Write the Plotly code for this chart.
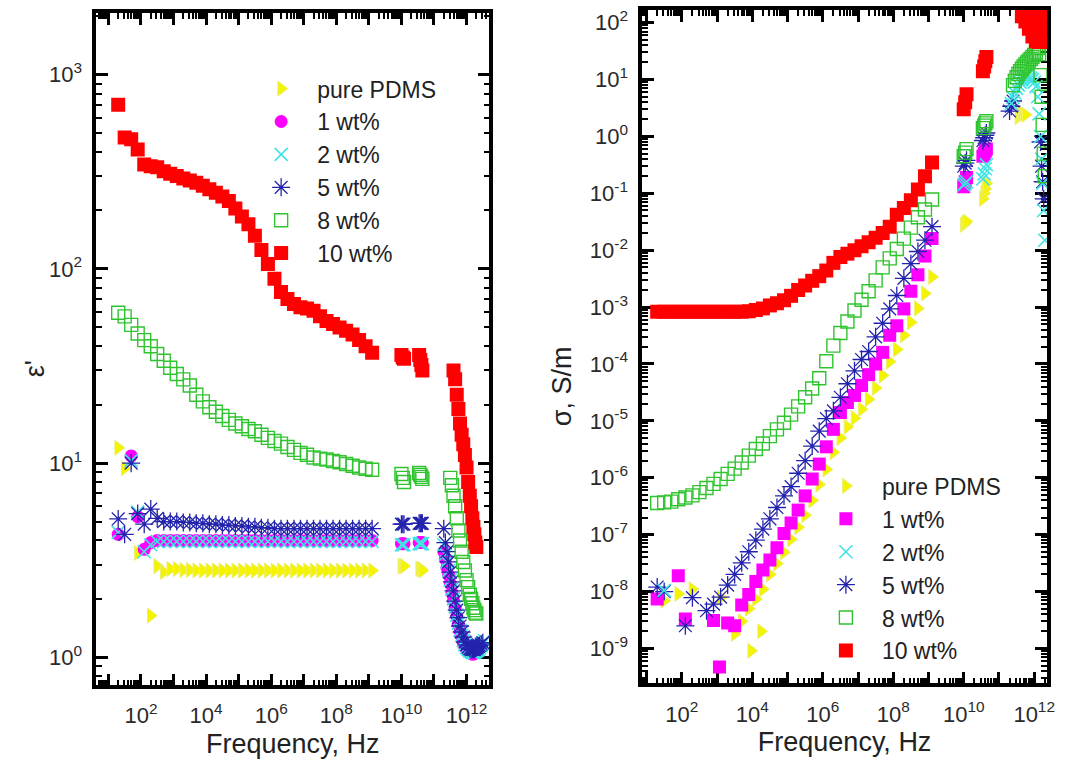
import plotly.graph_objects as go

# ---------------- data ----------------
# frequency grids (Hz)
freq_lf = [20, 31.6, 50.1, 79.4,
           126, 200, 316, 501, 794,
           1.26e3, 2.0e3, 3.16e3, 5.01e3, 7.94e3,
           1.26e4, 2.0e4, 3.16e4, 5.01e4, 7.94e4,
           1.26e5, 2.0e5, 3.16e5, 5.01e5, 7.94e5,
           1.26e6, 2.0e6, 3.16e6, 5.01e6, 7.94e6,
           1.26e7, 2.0e7, 3.16e7, 5.01e7, 7.94e7,
           1.26e8, 2.0e8, 3.16e8, 5.01e8, 7.94e8,
           1.26e9]
freq_mw = [1.0e10, 1.1e10, 1.2e10, 3.5e10, 3.8e10, 4.1e10, 4.4e10]
freq_thz = [2.0e11, 2.24e11, 2.51e11, 2.82e11, 3.16e11, 3.55e11, 3.98e11, 4.47e11,
            5.01e11, 5.62e11, 6.31e11, 7.08e11, 7.94e11, 8.91e11, 1.0e12, 1.12e12,
            1.26e12, 1.38e12, 1.51e12, 1.62e12, 1.74e12, 1.86e12, 2.0e12, 2.14e12,
            2.29e12, 2.51e12, 2.82e12, 3.16e12, 3.55e12]

series_names = ["pure PDMS", "1 wt%", "2 wt%", "5 wt%", "8 wt%", "10 wt%"]

# ---- permittivity eps' (left panel) ----
eps_pdms_lf = [12.0, 9.4, None, 3.45, None, 1.64, 2.95, 2.75,
               2.85, 2.85, 2.82, 2.82, 2.8, 2.8, 2.8, 2.8, 2.8, 2.8, 2.8, 2.8,
               2.8, 2.8, 2.8, 2.8, 2.8, 2.8, 2.8, 2.8, 2.8, 2.8,
               2.8, 2.8, 2.8, 2.8, 2.8, 2.8, 2.8, 2.8, 2.8, 2.8]
eps_1_lf = [4.3, None, 10.9, 5.3, 3.6, 3.9, 4.0, 4.0, 4.0, 4.0,
            4.0, 4.0, 4.0, 4.0, 4.0, 4.0, 4.0, 4.0, 4.0, 4.0,
            4.0, 4.0, 4.0, 4.0, 4.0, 4.0, 4.0, 4.0, 4.0, 4.0,
            4.0, 4.0, 4.0, 4.0, 4.0, 4.0, 4.0, 4.0, 4.0, 4.0]
eps_2_lf = [4.4, None, 10.3, 5.6, 3.5, 3.8, 3.95, 3.95, 3.95, 3.95,
            3.95, 3.95, 3.95, 3.95, 3.95, 3.95, 3.95, 3.95, 3.95, 3.95,
            3.95, 3.95, 3.95, 3.95, 3.95, 3.95, 3.95, 3.95, 3.95, 3.95,
            3.95, 3.95, 3.95, 3.95, 3.95, 3.95, 3.95, 3.95, 3.95, 3.95]
eps_5_lf = [5.16, 4.3, 10.0, 5.5, 4.85, 5.8, 5.2, 5.0, 5.0, 5.0,
            4.95, 4.95, 4.9, 4.9, 4.85, 4.85, 4.8, 4.8, 4.75, 4.75,
            4.7, 4.7, 4.65, 4.65, 4.6, 4.6, 4.6, 4.6, 4.6, 4.6,
            4.6, 4.6, 4.6, 4.6, 4.6, 4.6, 4.6, 4.6, 4.6, 4.6]
eps_8_lf = [59.5, 57, 51.5, 46.5, 43, 40, 36.5, 33.7, 31, 28.8,
            27, 25.1, 22.5, 20.8, 19.4, 18.4, 17.5, 16.7, 16.0, 15.5,
            15.0, 14.6, 14.0, 13.5, 13.0, 12.6, 12.1, 11.7, 11.3, 11.05,
            10.7, 10.55, 10.45, 10.25, 10.1, 9.9, 9.7, 9.5, 9.35, 9.25]
eps_10_lf = [700, 475, 465, 412, 345, 338, 334, 318, 309, 301,
             292, 285, 278, 268, 257, 247, 236, 224, 205, 186,
             170, 148, 125, 106, 89, 76, 70, 66, 63.5, 62.5,
             61, 57, 54, 52, 50, 48, 46, 43, 40, 37]

eps_pdms_mw = [2.95, 2.95, 2.95, 2.85, 2.85, 2.85, 2.8]
eps_1_mw = [3.85, 3.85, 3.85, 3.9, 3.9, 3.9, 3.9]
eps_2_mw = [3.8, 3.8, 3.8, 3.85, 3.85, 3.85, 3.85]
eps_5_mw = [4.85, 4.85, 4.85, 4.9, 4.9, 4.9, 4.9]
eps_8_mw = [8.8, 8.4, 8.0, 8.9, 8.7, 8.5, 8.3]
eps_10_mw = [36, 35, 34.5, 36, 34, 32, 30]

eps_pdms_thz = [None] * 29
eps_1_thz = [3.5, 3.2, 2.9, 2.65, 2.4, 2.15, 1.95, 1.78, 1.62, 1.48, 1.36, 1.28, 1.2, 1.15,
             1.11, 1.08, 1.06, 1.05, 1.04, 1.04, 1.05, 1.06, 1.07, 1.08, 1.1, 1.12, 1.14,
             None, None]
eps_2_thz = [3.8, 3.4, 3.1, 2.8, 2.5, 2.25, 2.0, 1.82, 1.65, 1.5, 1.38, 1.3, 1.22, 1.16,
             1.12, 1.1, 1.08, 1.07, 1.06, 1.06, 1.06, 1.07, 1.08, 1.09, 1.1, 1.12, 1.15,
             1.18, 1.22]
eps_5_thz = [4.6, 3.9, 3.5, 3.1, 2.75, 2.45, 2.2, 1.95, 1.75, 1.6, 1.45, 1.35, 1.27, 1.2,
             1.16, 1.13, 1.11, 1.1, 1.1, 1.1, 1.1, 1.11, 1.12, 1.13, 1.14, 1.15, 1.17,
             1.19, None]
eps_8_thz = [None, None, None, None, 8.4, 7.7, 6.8, 6.0, 5.2, 4.5, 4.0, 3.5, 3.1, 2.8,
             2.5, 2.3, 2.1, 2.0, 1.9, 1.8, 1.75, 1.7, 1.68, None, None, None, None,
             None, None]
eps_10_thz = [None, None, None, None, None, None, 30, 27, 22.5, 19, 16, 14, 12.5, 11,
              9.5, 8, 6.8, 6.0, 5.2, 4.7, 4.3, 3.9, 3.7, None, None, None, None,
              None, None]

# ---- conductivity sigma, S/m (right panel) ----
sig_pdms_lf = [None, 6.9e-9, None, 9.1e-9, None, 1.1e-8, None, None, None, 7.8e-9,
               None, 1.8e-9, 3.0e-9, 5.0e-9, 7.4e-9, 1.1e-8, 2.0e-8, 3.1e-8, 4.9e-8, 8.3e-8,
               1.35e-7, 2.2e-7, 4.0e-7, 7.6e-7, 1.4e-6, 2.8e-6, 5.0e-6, 7.9e-6, 1.12e-5, 1.6e-5,
               2.4e-5, 3.8e-5, 6.3e-5, 1.1e-4, 1.8e-4, 3.2e-4, 5.4e-4, 9.5e-4, 1.74e-3, 3.4e-3]
sig_1_lf = [7.4e-9, None, None, 1.9e-8, 3.3e-9, None, None, None, 3.1e-9, None,
            2.8e-9, 2.5e-9, 5.8e-9, 8.9e-9, 1.5e-8, 2.4e-8, 3.6e-8, 5.9e-8, 1.05e-7, 1.6e-7,
            2.7e-7, 4.8e-7, 9.5e-7, 1.74e-6, 3.5e-6, 7.1e-6, 1.4e-5, 2.1e-5, 2.8e-5, 4.2e-5,
            6.5e-5, 1.0e-4, 1.6e-4, 3.2e-4, 4.7e-4, 9.3e-4, 1.9e-3, 3.7e-3, 7.9e-3, 1.6e-2]
sig_2_lf = [None, 1.05e-8, None, None, None, None, None, None, None, None,
            None, None, None, None, None, None, None, None, None, None,
            None, None, None, None, None, None, None, None, None, None,
            None, None, None, None, None, None, None, None, None, None]
sig_5_lf = [1.2e-8, 1.0e-8, None, None, 2.5e-9, 7.8e-9, None, 4.6e-9, 6.0e-9, 8.0e-9,
            1.3e-8, 2.0e-8, 3.2e-8, 5.0e-8, 8.0e-8, 1.25e-7, 1.9e-7, 3.0e-7, 4.8e-7, 7.0e-7,
            1.2e-6, 2.0e-6, 3.6e-6, 6.6e-6, 1.1e-5, 1.5e-5, 2.6e-5, 4.5e-5, 7.6e-5, 1.2e-4,
            1.66e-4, 3.0e-4, 5.2e-4, 9.3e-4, 1.6e-3, 3.2e-3, 5.8e-3, 9.5e-3, 1.5e-2, 2.6e-2]
sig_8_lf = [3.6e-7, 3.7e-7, 3.8e-7, 4.2e-7, 4.5e-7, 4.9e-7, 5.6e-7, 6.6e-7, 7.8e-7, 9.5e-7,
            1.17e-6, 1.45e-6, 1.86e-6, 2.45e-6, 3.2e-6, 4.0e-6, 5.4e-6, 7.1e-6, 9.3e-6, 1.29e-5,
            1.8e-5, 2.6e-5, 3.7e-5, 5.6e-5, 1.12e-4, 2.1e-4, 3.5e-4, 5.6e-4, 8.7e-4, 1.35e-3,
            1.9e-3, 2.95e-3, 5.0e-3, 7.2e-3, 1.05e-2, 1.6e-2, 2.5e-2, 3.8e-2, 5.2e-2, 7.8e-2]
sig_10_lf = [8.3e-4, 8.3e-4, 8.3e-4, 8.3e-4, 8.3e-4, 8.3e-4, 8.3e-4, 8.3e-4, 8.3e-4, 8.3e-4,
             8.3e-4, 8.3e-4, 8.3e-4, 8.5e-4, 8.9e-4, 9.5e-4, 1.07e-3, 1.17e-3, 1.32e-3, 1.58e-3,
             2.0e-3, 2.4e-3, 2.9e-3, 3.5e-3, 4.4e-3, 6.0e-3, 7.6e-3, 8.7e-3, 1.0e-2, 1.17e-2,
             1.38e-2, 1.66e-2, 2.0e-2, 2.6e-2, 4.2e-2, 5.5e-2, 7.6e-2, 0.117, 0.20, 0.35]

sig_pdms_mw = [0.028, 0.03, 0.032, 0.08, 0.1, 0.12, 0.15]
sig_1_mw = [0.13, 0.16, 0.19, 0.45, 0.5, 0.55, 0.6]
sig_2_mw = [0.14, 0.15, 0.16, 0.18, 0.22, 0.27, 0.32]
sig_5_mw = [0.3, 0.34, 0.38, 0.85, 0.95, 1.05, 1.15]
sig_8_mw = [0.45, 0.52, 0.6, 1.4, 1.55, 1.7, 1.85]
sig_10_mw = [3.0, 4.0, 5.5, 14, 17, 21, 25]

sig_pdms_thz = [None, None, None, None, None, 2.2, 2.4, 2.5, 2.5, 2.4, None, None, None, None,
                None, None, None, None, None, None, None, None, None, None, None, None, None,
                None, None]
sig_1_thz = [None] * 29
sig_2_thz = [None, 3.8, 4.8, 5.8, 7.0, 8.0, 9.0, 10, 11, 11.5, 11.5, 11, 10.5, 10,
             9, 7.5, 5, 2.5, 1.0, 0.4, 0.15, 0.05, 0.015, None, None, None, None,
             None, None]
sig_5_thz = [2.8, 3.4, 4.2, None, None, None, None, None, None, None, None, None, None, None,
             None, None, None, None, 0.8, 0.3, 0.16, 0.08, None, None, None, None, None,
             None, None]
sig_8_thz = [None, None, 8, 9.5, 11, 12.5, 14, 15.5, 17, 18.5, 20, 21.5, 23, 25,
             27, 30, 36, 28, 12, 5, 1.6, 0.5, 0.2, None, None, None, None,
             None, None]
sig_10_thz = [None, None, None, None, None, None, None, 130, 160, 105, 150, 78, 120, 57,
              160, 47, 90, 46, 160, 65, 46, 150, 90, 46, 150, None, None,
              None, None]

# additional isolated points of the low-frequency sweep
sig_pdms_extra_f = [9.3e3, 1.78e4]
sig_pdms_extra = [9.1e-10, 2.0e-9]
sig_1_extra_f = [1.17e3]
sig_1_extra = [4.7e-10]

# ---------------- styling ----------------
FONT = "Arial, Liberation Sans, sans-serif"
C_Y, C_M, C_C, C_B, C_G, C_R = "#f4f400", "#ff00ff", "#3fe3e3", "#2323ad", "#2fc42f", "#ff0000"

def mk(symbol, size, color, lw=0, lcolor=None):
    return dict(symbol=symbol, size=size, color=color,
                line=dict(width=lw, color=lcolor or color))

left_markers = [
    mk("triangle-right", 13, C_Y, 1, "#eded70"),
    mk("circle", 13, C_M),
    mk("x-thin-open", 13, C_C, 1.6),
    mk("asterisk-open", 15, C_B, 1.3),
    mk("square-open", 13, C_G, 1.4),
    mk("square", 14, C_R),
]
right_markers = [
    mk("triangle-right", 13, C_Y, 1, "#eded70"),
    mk("square", 13, C_M),
    mk("x-thin-open", 13, C_C, 1.6),
    mk("asterisk-open", 15, C_B, 1.3),
    mk("square-open", 13, C_G, 1.4),
    mk("square", 14, C_R),
]

eps_lf = [eps_pdms_lf, eps_1_lf, eps_2_lf, eps_5_lf, eps_8_lf, eps_10_lf]
eps_mw = [eps_pdms_mw, eps_1_mw, eps_2_mw, eps_5_mw, eps_8_mw, eps_10_mw]
eps_thz = [eps_pdms_thz, eps_1_thz, eps_2_thz, eps_5_thz, eps_8_thz, eps_10_thz]
sig_lf = [sig_pdms_lf, sig_1_lf, sig_2_lf, sig_5_lf, sig_8_lf, sig_10_lf]
sig_mw = [sig_pdms_mw, sig_1_mw, sig_2_mw, sig_5_mw, sig_8_mw, sig_10_mw]
sig_thz = [sig_pdms_thz, sig_1_thz, sig_2_thz, sig_5_thz, sig_8_thz, sig_10_thz]
sig_extra_f = [sig_pdms_extra_f, sig_1_extra_f, [], [], [], []]
sig_extra = [sig_pdms_extra, sig_1_extra, [], [], [], []]

left_z = [0, 1, 2, 3, 4, 5]
right_z = [0, 1, 3, 2, 4, 5]

fig = go.Figure()
for k, name in enumerate(series_names):
    fig.add_trace(go.Scatter(
        x=freq_lf + freq_mw + freq_thz,
        y=eps_lf[k] + eps_mw[k] + eps_thz[k],
        mode="markers", name=name, marker=left_markers[k],
        xaxis="x", yaxis="y", legend="legend", zorder=left_z[k]))
for k, name in enumerate(series_names):
    fig.add_trace(go.Scatter(
        x=freq_lf + freq_mw + freq_thz + sig_extra_f[k],
        y=sig_lf[k] + sig_mw[k] + sig_thz[k] + sig_extra[k],
        mode="markers", name=name, marker=right_markers[k],
        xaxis="x2", yaxis="y2", legend="legend2", zorder=right_z[k]))

# ---------------- axes ----------------
def sup(e):
    return "10<sup>%d</sup>" % e

x_major = [10 ** e for e in range(0, 14)]
x_text = [sup(e) if (e % 2 == 0 and e > 0) else "" for e in range(0, 14)]
x_minor = [m * 10 ** e for e in range(0, 13) for m in range(2, 10)]

axis_common = dict(
    type="log", showline=True, linecolor="black", linewidth=3.5, mirror="allticks",
    ticks="inside", ticklen=12, tickwidth=3, tickcolor="black",
    showgrid=False, zeroline=False, tickmode="array",
    tickfont=dict(family=FONT, size=22, color="#2a2a2a"),
)
minor_common = dict(ticks="inside", ticklen=6, tickwidth=2, tickcolor="black", showgrid=False)

yl_major = [10 ** e for e in range(-1, 5)]
yl_text = [sup(e) for e in range(-1, 5)]
yl_minor = [m * 10 ** e for e in range(-1, 4) for m in range(2, 10)]
yr_major = [10 ** e for e in range(-10, 4)]
yr_text = [sup(e) for e in range(-10, 4)]
yr_minor = [m * 10 ** e for e in range(-10, 3) for m in range(2, 10)]

title_font = dict(family=FONT, size=27, color="#222222")

fig.update_layout(
    width=1066, height=776,
    margin=dict(l=0, r=0, t=0, b=0),
    paper_bgcolor="white", plot_bgcolor="white",
    font=dict(family=FONT, color="#222222"),
    xaxis=dict(axis_common, domain=[0.0910, 0.4625], anchor="y", range=[0.628, 12.70],
               tickvals=x_major, ticktext=x_text, ticklabelstandoff=8,
               minor=dict(minor_common, tickmode="array", tickvals=x_minor),
               title=dict(text="Frequency, Hz", font=title_font, standoff=8)),
    yaxis=dict(axis_common, domain=[0.1173, 0.9871], anchor="x", range=[-0.144, 3.318],
               tickvals=yl_major, ticktext=yl_text, ticklabelstandoff=6,
               minor=dict(minor_common, tickmode="array", tickvals=yl_minor)),
    xaxis2=dict(axis_common, domain=[0.6069, 0.9897], anchor="y2", range=[0.873, 12.366],
                tickvals=x_major, ticktext=x_text, ticklabelstandoff=8,
                minor=dict(minor_common, tickmode="array", tickvals=x_minor),
                title=dict(text="Frequency, Hz", font=title_font, standoff=8)),
    yaxis2=dict(axis_common, domain=[0.1198, 0.9910], anchor="x2", range=[-9.615, 2.224],
                tickvals=yr_major, ticktext=yr_text, ticklabelstandoff=6,
                minor=dict(minor_common, tickmode="array", tickvals=yr_minor)),
    legend=dict(x=0.2317, y=0.917, xanchor="left", yanchor="top",
                bgcolor="rgba(0,0,0,0)", itemwidth=62,
                font=dict(family=FONT, size=23, color="#222222")),
    legend2=dict(x=0.7655, y=0.403, xanchor="left", yanchor="top",
                 bgcolor="rgba(0,0,0,0)", itemwidth=62,
                 font=dict(family=FONT, size=23, color="#222222")),
    annotations=[
        dict(text="ε'", xref="paper", yref="paper", x=0.0328, y=0.527,
             xanchor="center", yanchor="middle", textangle=-90, showarrow=False,
             font=title_font),
        dict(text="σ, S/m", xref="paper", yref="paper", x=0.5319, y=0.504,
             xanchor="center", yanchor="middle", textangle=-90, showarrow=False,
             font=title_font),
    ],
)

fig.write_html("out.html")
